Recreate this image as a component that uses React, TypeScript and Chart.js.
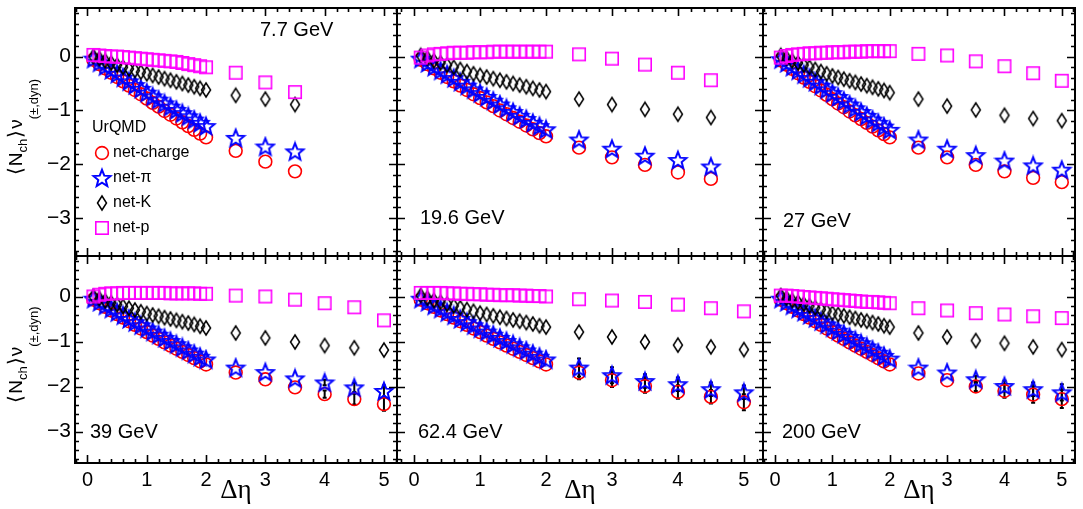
import React, { useEffect, useRef } from "react";
import { Chart, registerables } from "chart.js";

Chart.register(...registerables);

// ---------------- data ----------------
const DETA = [
  0.1, 0.2, 0.3, 0.4, 0.5, 0.6, 0.7, 0.8, 0.9, 1.0,
  1.1, 1.2, 1.3, 1.4, 1.5, 1.6, 1.7, 1.8, 1.9, 2.0,
  2.5, 3.0, 3.5, 4.0, 4.5, 5.0,
];
const X_TICKS = [0, 1, 2, 3, 4, 5];
const Y_TICKS = [-3, -2, -1, 0];
const SPECIES = ["net-charge", "net-\u03c0", "net-K", "net-p"];
const MODEL = "UrQMD";
const ENERGIES = ["7.7 GeV", "19.6 GeV", "27 GeV", "39 GeV", "62.4 GeV", "200 GeV"];
const X_TITLE = "\u0394\u03b7";

// 7.7 GeV
const E7_CHARGE = [-0.06, -0.14, -0.22, -0.30, -0.38, -0.46, -0.54, -0.62, -0.70, -0.78, -0.86, -0.93, -1.01, -1.08, -1.15, -1.22, -1.29, -1.36, -1.43, -1.50, -1.75, -1.95, -2.13];
const E7_PION = [-0.04, -0.11, -0.18, -0.25, -0.32, -0.39, -0.46, -0.53, -0.60, -0.67, -0.74, -0.80, -0.87, -0.93, -0.99, -1.05, -1.11, -1.17, -1.23, -1.29, -1.51, -1.67, -1.76];
const E7_KAON = [0.00, -0.04, -0.08, -0.12, -0.16, -0.20, -0.23, -0.26, -0.29, -0.32, -0.35, -0.38, -0.41, -0.44, -0.47, -0.50, -0.53, -0.56, -0.59, -0.62, -0.72, -0.79, -0.89];
const E7_PROTON = [0.03, 0.02, 0.01, 0.00, 0.00, -0.01, -0.02, -0.03, -0.04, -0.05, -0.06, -0.07, -0.08, -0.09, -0.10, -0.12, -0.14, -0.16, -0.18, -0.20, -0.30, -0.48, -0.66];

// 19.6 GeV
const E19_CHARGE = [-0.06, -0.14, -0.22, -0.30, -0.38, -0.46, -0.54, -0.62, -0.70, -0.77, -0.85, -0.92, -1.00, -1.07, -1.14, -1.21, -1.28, -1.35, -1.42, -1.48, -1.69, -1.87, -2.01, -2.15, -2.27];
const E19_PION = [-0.04, -0.12, -0.19, -0.26, -0.33, -0.40, -0.47, -0.54, -0.61, -0.68, -0.75, -0.82, -0.89, -0.96, -1.03, -1.10, -1.16, -1.23, -1.29, -1.35, -1.54, -1.71, -1.84, -1.92, -2.04];
const E19_KAON = [0.02, -0.03, -0.08, -0.12, -0.16, -0.20, -0.24, -0.28, -0.32, -0.35, -0.38, -0.41, -0.44, -0.47, -0.50, -0.53, -0.56, -0.59, -0.62, -0.65, -0.79, -0.89, -0.98, -1.07, -1.13];
const E19_PROTON = [-0.02, 0.02, 0.04, 0.05, 0.06, 0.07, 0.07, 0.07, 0.08, 0.08, 0.08, 0.09, 0.09, 0.09, 0.09, 0.09, 0.09, 0.09, 0.09, 0.09, 0.04, -0.04, -0.15, -0.30, -0.44];

// 27 GeV
const E27_CHARGE = [-0.07, -0.15, -0.23, -0.31, -0.39, -0.47, -0.55, -0.63, -0.71, -0.79, -0.87, -0.94, -1.02, -1.09, -1.16, -1.23, -1.30, -1.37, -1.44, -1.50, -1.69, -1.87, -2.01, -2.13, -2.25, -2.33];
const E27_PION = [-0.05, -0.12, -0.19, -0.26, -0.33, -0.40, -0.47, -0.54, -0.61, -0.68, -0.75, -0.82, -0.89, -0.96, -1.03, -1.10, -1.17, -1.23, -1.30, -1.36, -1.54, -1.71, -1.83, -1.93, -2.02, -2.10];
const E27_KAON = [0.02, -0.03, -0.08, -0.12, -0.16, -0.20, -0.24, -0.28, -0.32, -0.36, -0.39, -0.42, -0.45, -0.48, -0.51, -0.54, -0.57, -0.60, -0.63, -0.67, -0.79, -0.92, -0.99, -1.09, -1.15, -1.19];
const E27_PROTON = [-0.02, 0.01, 0.03, 0.04, 0.05, 0.06, 0.06, 0.07, 0.07, 0.08, 0.08, 0.08, 0.09, 0.09, 0.09, 0.10, 0.10, 0.10, 0.10, 0.10, 0.05, 0.02, -0.09, -0.18, -0.31, -0.45];

// 39 GeV
const E39_CHARGE = [-0.07, -0.15, -0.23, -0.31, -0.39, -0.47, -0.55, -0.63, -0.71, -0.79, -0.87, -0.94, -1.02, -1.09, -1.16, -1.23, -1.30, -1.37, -1.44, -1.51, -1.69, -1.84, -2.02, -2.17, -2.28, -2.39];
const E39_PION = [-0.05, -0.12, -0.20, -0.27, -0.35, -0.42, -0.50, -0.57, -0.64, -0.71, -0.78, -0.85, -0.92, -0.99, -1.06, -1.13, -1.20, -1.27, -1.34, -1.40, -1.58, -1.68, -1.82, -1.91, -2.02, -2.10];
const E39_KAON = [0.00, -0.05, -0.10, -0.14, -0.18, -0.22, -0.26, -0.30, -0.34, -0.38, -0.41, -0.44, -0.47, -0.50, -0.53, -0.56, -0.59, -0.62, -0.66, -0.70, -0.81, -0.92, -1.01, -1.09, -1.14, -1.19];
const E39_PROTON = [0.00, 0.04, 0.06, 0.07, 0.07, 0.08, 0.08, 0.08, 0.08, 0.08, 0.08, 0.08, 0.08, 0.07, 0.07, 0.07, 0.07, 0.07, 0.06, 0.06, 0.02, 0.00, -0.07, -0.15, -0.24, -0.53];

// 62.4 GeV
const E62_CHARGE = [-0.07, -0.15, -0.23, -0.31, -0.39, -0.47, -0.55, -0.63, -0.71, -0.79, -0.87, -0.94, -1.02, -1.09, -1.16, -1.23, -1.30, -1.37, -1.44, -1.51, -1.69, -1.86, -1.99, -2.12, -2.23, -2.35];
const E62_PION = [-0.05, -0.12, -0.20, -0.27, -0.35, -0.42, -0.50, -0.57, -0.64, -0.71, -0.78, -0.85, -0.92, -0.99, -1.06, -1.13, -1.20, -1.27, -1.34, -1.40, -1.58, -1.75, -1.88, -1.95, -2.06, -2.13];
const E62_KAON = [0.02, -0.04, -0.09, -0.13, -0.17, -0.21, -0.25, -0.29, -0.33, -0.37, -0.40, -0.43, -0.46, -0.49, -0.52, -0.55, -0.58, -0.61, -0.65, -0.68, -0.79, -0.90, -1.01, -1.08, -1.12, -1.18];
const E62_PROTON = [0.08, 0.08, 0.08, 0.08, 0.07, 0.07, 0.06, 0.06, 0.05, 0.05, 0.04, 0.04, 0.03, 0.03, 0.03, 0.02, 0.02, 0.01, 0.01, 0.00, -0.06, -0.09, -0.12, -0.18, -0.26, -0.33];

// 200 GeV
const E200_CHARGE = [-0.07, -0.15, -0.23, -0.31, -0.39, -0.47, -0.55, -0.63, -0.71, -0.79, -0.87, -0.94, -1.02, -1.09, -1.16, -1.23, -1.30, -1.37, -1.44, -1.51, -1.71, -1.86, -2.00, -2.10, -2.18, -2.28];
const E200_PION = [-0.05, -0.12, -0.20, -0.27, -0.34, -0.41, -0.48, -0.55, -0.62, -0.69, -0.76, -0.83, -0.90, -0.97, -1.04, -1.11, -1.18, -1.25, -1.32, -1.38, -1.58, -1.69, -1.84, -1.99, -2.06, -2.13];
const E200_KAON = [0.02, -0.04, -0.09, -0.13, -0.17, -0.21, -0.25, -0.29, -0.33, -0.37, -0.40, -0.43, -0.46, -0.49, -0.52, -0.55, -0.58, -0.61, -0.65, -0.68, -0.81, -0.90, -0.98, -1.04, -1.12, -1.18];
const E200_PROTON = [0.02, 0.02, 0.01, 0.00, -0.01, -0.02, -0.03, -0.04, -0.05, -0.06, -0.07, -0.08, -0.09, -0.10, -0.11, -0.12, -0.12, -0.13, -0.14, -0.15, -0.26, -0.31, -0.37, -0.40, -0.44, -0.48];

// statistical errors on the coarse (2.5 .. 5.0) points
const ERR_39_CHARGE = [0, 0, 0, 0.08, 0.12, 0.15];
const ERR_39_PION = [0, 0, 0, 0.06, 0.10, 0.12];
const ERR_62_CHARGE = [0.15, 0.15, 0.15, 0.15, 0.15, 0.18];
const ERR_62_PION = [0.2, 0.18, 0.15, 0.15, 0.15, 0.15];
const ERR_200_CHARGE = [0, 0, 0.10, 0.15, 0.18, 0.20];
const ERR_200_PION = [0, 0, 0.08, 0.12, 0.15, 0.18];

// ---------------- layout / style ----------------
const W = 1083;
const H = 509;
const COL_L = [75, 397, 763];
const COL_R = [397, 763, 1075];
const ROW_T = [3, 256];
const ROW_B = [256, 463];
const Y_MIN = -3.7;
const Y_MAX = 0.9;
const COLORS = ["#ff0000", "#0000ff", "#000000", "#ff00ff"];
const SANS = "'Liberation Sans', Arial, Helvetica, sans-serif";
const SERIF = "'Liberation Serif', 'Times New Roman', serif";

type Panel = {
  energy: number;
  col: number;
  row: number;
  xMin: number;
  xMax: number;
  series: number[][];
  errs: (number[] | null)[];
  lx: number;
  ly: number;
  legend?: boolean;
};

const PANELS: Panel[] = [
  { energy: 0, col: 0, row: 0, xMin: -0.21, xMax: 5.22, series: [E7_CHARGE, E7_PION, E7_KAON, E7_PROTON], errs: [null, null], lx: 185, ly: 22, legend: true },
  { energy: 1, col: 1, row: 0, xMin: -0.26, xMax: 5.29, series: [E19_CHARGE, E19_PION, E19_KAON, E19_PROTON], errs: [null, null], lx: 23, ly: 210 },
  { energy: 2, col: 2, row: 0, xMin: -0.21, xMax: 5.23, series: [E27_CHARGE, E27_PION, E27_KAON, E27_PROTON], errs: [null, null], lx: 20, ly: 213 },
  { energy: 3, col: 0, row: 1, xMin: -0.21, xMax: 5.22, series: [E39_CHARGE, E39_PION, E39_KAON, E39_PROTON], errs: [ERR_39_CHARGE, ERR_39_PION], lx: 15, ly: 176 },
  { energy: 4, col: 1, row: 1, xMin: -0.26, xMax: 5.29, series: [E62_CHARGE, E62_PION, E62_KAON, E62_PROTON], errs: [ERR_62_CHARGE, ERR_62_PION], lx: 21, ly: 176 },
  { energy: 5, col: 2, row: 1, xMin: -0.21, xMax: 5.23, series: [E200_CHARGE, E200_PION, E200_KAON, E200_PROTON], errs: [ERR_200_CHARGE, ERR_200_PION], lx: 19, ly: 176 },
];

function fmtTick(v: number): string {
  return v < 0 ? "\u2212" + String(Math.abs(v)) : String(v);
}

function makeStar(color: string): HTMLCanvasElement {
  const c = document.createElement("canvas");
  c.width = 22;
  c.height = 22;
  const g = c.getContext("2d")!;
  g.strokeStyle = color;
  g.lineWidth = 2;
  g.lineJoin = "miter";
  g.beginPath();
  for (let i = 0; i < 10; i++) {
    const r = i % 2 === 0 ? 9 : 3.9;
    const a = -Math.PI / 2 + (i * Math.PI) / 5;
    const px = 11 + r * Math.cos(a);
    const py = 11.8 + r * Math.sin(a);
    if (i === 0) g.moveTo(px, py);
    else g.lineTo(px, py);
  }
  g.closePath();
  g.stroke();
  return c;
}

function makeDiamond(color: string): HTMLCanvasElement {
  const c = document.createElement("canvas");
  c.width = 14;
  c.height = 18;
  const g = c.getContext("2d")!;
  g.strokeStyle = color;
  g.lineWidth = 1.5;
  g.beginPath();
  g.moveTo(7, 2);
  g.lineTo(11.5, 9);
  g.lineTo(7, 16);
  g.lineTo(2.5, 9);
  g.closePath();
  g.stroke();
  return c;
}

function makeSquare(color: string): HTMLCanvasElement {
  const c = document.createElement("canvas");
  c.width = 16;
  c.height = 16;
  const g = c.getContext("2d")!;
  g.strokeStyle = color;
  g.lineWidth = 1.6;
  g.strokeRect(1.8, 1.8, 12.4, 12.4);
  return c;
}

function drawYTitle(ctx: CanvasRenderingContext2D, cy: number) {
  const parts = [
    { t: "\u27e8", size: 20, dy: 0, gap: 1 },
    { t: "N", size: 19, dy: 0, gap: 0 },
    { t: "ch", size: 13, dy: 5, gap: 1 },
    { t: "\u27e9", size: 20, dy: 0, gap: 1 },
    { t: "\u03bd", size: 19, dy: 0, gap: 0 },
    { t: "(\u00b1,dyn)", size: 13, dy: 16, gap: 0 },
  ];
  let total = 0;
  for (const p of parts) {
    ctx.font = `${p.size}px ${SANS}`;
    total += ctx.measureText(p.t).width + p.gap;
  }
  ctx.save();
  ctx.translate(22, cy);
  ctx.rotate(-Math.PI / 2);
  ctx.fillStyle = "#000";
  ctx.textBaseline = "alphabetic";
  ctx.textAlign = "left";
  let x = -total / 2;
  for (const p of parts) {
    ctx.font = `${p.size}px ${SANS}`;
    ctx.fillText(p.t, x, p.dy);
    x += ctx.measureText(p.t).width + p.gap;
  }
  ctx.restore();
}

function PanelChart({ panel }: { panel: Panel }) {
  const ref = useRef<HTMLCanvasElement | null>(null);
  useEffect(() => {
    const canvas = ref.current;
    if (!canvas) return;
    const styles: any[] = ["circle", makeStar(COLORS[1]), makeDiamond(COLORS[2]), makeSquare(COLORS[3])];
    const orders = [3, 2, 1, 0];
    const datasets = panel.series.map((vals, si) => ({
      label: SPECIES[si],
      data: vals.map((v, i) => ({ x: DETA[i], y: v })),
      pointStyle: styles[si],
      pointRadius: 6.4,
      borderColor: COLORS[si],
      backgroundColor: "rgba(0,0,0,0)",
      borderWidth: 1.6,
      showLine: false,
      order: orders[si],
    }));
    const { col, row } = panel;
    const L = COL_L[col];
    const R = COL_R[col];
    const T = ROW_T[row];
    const B = ROW_B[row];

    const deco = {
      id: "deco",
      beforeDatasetsDraw(chart: any) {
        const ctx = chart.ctx as CanvasRenderingContext2D;
        const xs = chart.scales.x;
        const ys = chart.scales.y;
        ctx.save();
        ctx.strokeStyle = "#000";
        ctx.lineWidth = 2;
        panel.errs.forEach((errs, si) => {
          if (!errs) return;
          const vals = panel.series[si];
          errs.forEach((e, k) => {
            if (!e) return;
            const idx = 20 + k;
            const px = xs.getPixelForValue(DETA[idx]);
            const y1 = ys.getPixelForValue(vals[idx] - e);
            const y2 = ys.getPixelForValue(vals[idx] + e);
            ctx.beginPath();
            ctx.moveTo(px, y1);
            ctx.lineTo(px, y2);
            ctx.moveTo(px - 2, y1);
            ctx.lineTo(px + 2, y1);
            ctx.moveTo(px - 2, y2);
            ctx.lineTo(px + 2, y2);
            ctx.stroke();
          });
        });
        ctx.restore();
      },
      afterDraw(chart: any) {
        const ctx = chart.ctx as CanvasRenderingContext2D;
        const { left, right, top, bottom } = chart.chartArea;
        const xs = chart.scales.x;
        const ys = chart.scales.y;
        ctx.save();
        ctx.strokeStyle = "#000";
        // ticks
        ctx.lineWidth = 1.6;
        ctx.beginPath();
        for (let k = -18; k <= 4; k++) {
          const v = k * 0.2;
          if (v < Y_MIN || v > Y_MAX) continue;
          const py = Math.round(ys.getPixelForValue(v)) + 0.5;
          const len = k % 5 === 0 ? 8 : 4;
          ctx.moveTo(left, py);
          ctx.lineTo(left + len, py);
          ctx.moveTo(right, py);
          ctx.lineTo(right - len, py);
        }
        for (let k = -1; k <= 26; k++) {
          const v = k * 0.2;
          if (v < panel.xMin || v > panel.xMax) continue;
          const px = Math.round(xs.getPixelForValue(v)) + 0.5;
          const len = k % 5 === 0 ? 8 : 4;
          ctx.moveTo(px, bottom);
          ctx.lineTo(px, bottom - len);
          ctx.moveTo(px, top);
          ctx.lineTo(px, top + len);
        }
        ctx.stroke();
        // frame
        ctx.lineWidth = 2;
        ctx.strokeRect(left, top, right - left, bottom - top);
        // energy label
        ctx.fillStyle = "#000";
        ctx.font = `20px ${SANS}`;
        ctx.textAlign = "left";
        ctx.textBaseline = "middle";
        ctx.fillText(ENERGIES[panel.energy], left + panel.lx, top + panel.ly);
        // legend
        if (panel.legend) {
          ctx.font = `16px ${SANS}`;
          ctx.fillText(MODEL, left + 17, 128);
          chart.data.datasets.forEach((ds: any, i: number) => {
            const y = 153 + i * 25;
            const mx = left + 27;
            const st = ds.pointStyle;
            if (typeof st === "string") {
              ctx.beginPath();
              ctx.lineWidth = ds.borderWidth;
              ctx.strokeStyle = ds.borderColor;
              ctx.arc(mx, y, ds.pointRadius, 0, Math.PI * 2);
              ctx.stroke();
            } else {
              ctx.drawImage(st, Math.round(mx - st.width / 2), Math.round(y - st.height / 2));
            }
            ctx.fillStyle = "#000";
            ctx.fillText(ds.label, left + 38, y);
          });
        }
        // y title
        if (col === 0) drawYTitle(ctx, (top + bottom) / 2 - 5);
        ctx.restore();
      },
    };

    const chart = new Chart(canvas, {
      type: "scatter",
      data: { datasets } as any,
      options: {
        animation: false,
        responsive: false,
        devicePixelRatio: 1,
        events: [],
        layout: {
          padding: {
            left: col === 0 ? 0 : L,
            right: W - R,
            top: T,
            bottom: row === 1 ? 0 : H - B,
          },
        },
        scales: {
          x: {
            type: "linear",
            position: "bottom",
            min: panel.xMin,
            max: panel.xMax,
            display: row === 1,
            grid: { display: false, drawTicks: false },
            border: { display: false },
            ticks: {
              color: "#000",
              font: { family: SANS, size: 20 },
              padding: 5,
              maxRotation: 0,
              autoSkip: false,
              callback: (v: any) => fmtTick(Number(v)),
            },
            title: {
              display: true,
              text: X_TITLE,
              color: "#000",
              font: { family: SERIF, size: 27 },
              padding: { top: 0, bottom: 2 },
            },
            afterBuildTicks: (s: any) => {
              s.ticks = X_TICKS.map((v) => ({ value: v }));
            },
            afterFit: (s: any) => {
              s.paddingLeft = 0;
              s.paddingRight = 0;
              if (row === 1) s.height = H - B;
            },
          },
          y: {
            type: "linear",
            position: "left",
            min: Y_MIN,
            max: Y_MAX,
            display: col === 0,
            grid: { display: false, drawTicks: false },
            border: { display: false },
            ticks: {
              color: "#000",
              font: { family: SANS, size: 21 },
              padding: 4,
              autoSkip: false,
              callback: (v: any) => fmtTick(Number(v)),
            },
            afterBuildTicks: (s: any) => {
              s.ticks = Y_TICKS.map((v) => ({ value: v }));
            },
            afterFit: (s: any) => {
              s.paddingTop = 0;
              s.paddingBottom = 0;
              if (col === 0) s.width = COL_L[0];
            },
          },
        },
        plugins: {
          legend: { display: false },
          tooltip: { enabled: false },
        },
      } as any,
      plugins: [deco],
    });
    return () => chart.destroy();
  }, [panel]);
  return (
    <canvas
      ref={ref}
      width={W}
      height={H}
      style={{ position: "absolute", left: 0, top: 0, width: W, height: H }}
    />
  );
}

export default function App() {
  return (
    <div style={{ position: "absolute", left: 0, top: 0, width: W, height: H, background: "#fff", overflow: "hidden" }}>
      {PANELS.map((p, i) => (
        <PanelChart key={i} panel={p} />
      ))}
    </div>
  );
}
